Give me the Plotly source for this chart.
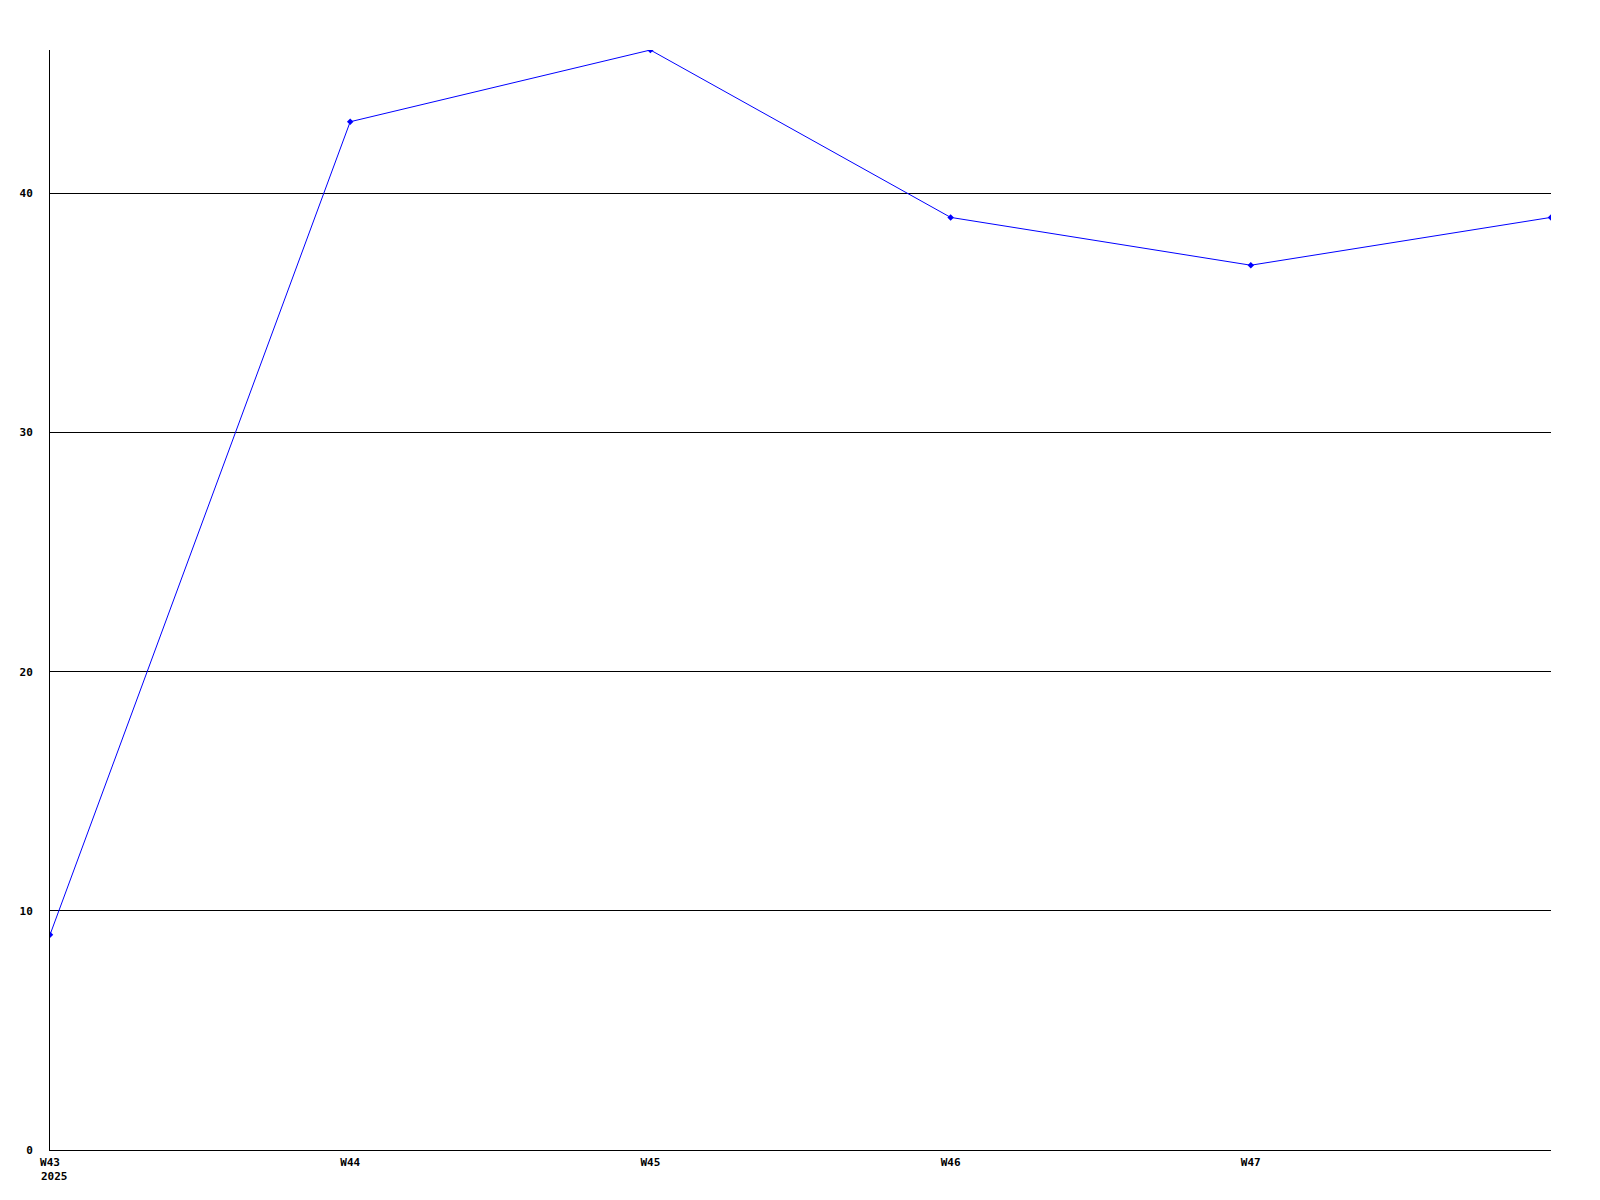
import plotly.graph_objects as go

# data
weeks = ["W43", "W44", "W45", "W46", "W47", "W48"]
values = [9, 43, 46, 39, 37, 39]
tick_labels = ["W43", "W44", "W45", "W46", "W47"]
year_label = "2025"
y_ticks = [0, 10, 20, 30, 40]

# page body adds 8px around the figure, so figure is a bit smaller than the window
size_plot = [1584, 1184]
font_tick = dict(family="DejaVu Sans Mono", size=11, color="black", weight="bold")

x_pos = list(range(len(weeks)))

fig = go.Figure()
fig.add_trace(go.Scatter(
    x=x_pos,
    y=values,
    mode="lines+markers",
    line=dict(color="#0000ff", width=1),
    marker=dict(color="#0000ff", size=5, symbol="diamond"),
    showlegend=False,
    hoverinfo="skip",
))

# year under first week label, left-aligned with it
fig.add_annotation(
    x=x_pos[0], xref="x", xanchor="left", xshift=-11,
    y=0, yref="paper", yanchor="top", yshift=-18,
    text=year_label, showarrow=False, font=font_tick,
)

fig.update_layout(
    width=size_plot[0],
    height=size_plot[1],
    margin=dict(l=42, r=41, t=42, b=42, autoexpand=False),
    plot_bgcolor="white",
    paper_bgcolor="white",
)

fig.update_xaxes(
    range=[0, len(weeks) - 1],
    tickmode="array",
    tickvals=x_pos[:-1],
    ticktext=tick_labels,
    tickfont=font_tick,
    showgrid=False,
    zeroline=False,
    showline=True,
    linecolor="black",
    linewidth=1,
    ticks="",
    ticklabelstandoff=2,
)
fig.update_yaxes(
    range=[0, 46],
    tickmode="array",
    tickvals=y_ticks,
    ticktext=[str(v) for v in y_ticks],
    tickfont=font_tick,
    showgrid=True,
    gridcolor="black",
    gridwidth=1,
    zeroline=False,
    showline=True,
    linecolor="black",
    linewidth=1,
    ticks="",
    ticklabelstandoff=14,
)

fig.write_html("out.html")
